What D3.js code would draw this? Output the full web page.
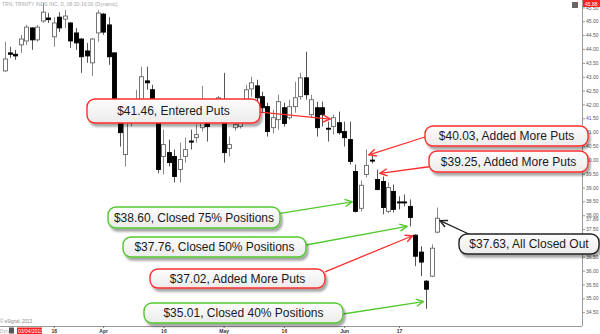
<!DOCTYPE html>
<html>
<head>
<meta charset="utf-8">
<script src="https://d3js.org/d3.v7.min.js"></script>
<style>
body { margin: 0; background: #fff; }
svg { display: block; font-family: Arial, "Liberation Sans", sans-serif; }
</style>
</head>
<body>
<script>
// trading days shown (TRN daily, Mar 5 - Jun 26 2013)
var dates = ['2013-03-05','2013-03-06','2013-03-07','2013-03-08','2013-03-11','2013-03-12','2013-03-13','2013-03-14','2013-03-15',
  '2013-03-18','2013-03-19','2013-03-20','2013-03-21','2013-03-22','2013-03-25','2013-03-26','2013-03-27','2013-03-28',
  '2013-04-01','2013-04-02','2013-04-03','2013-04-04','2013-04-05','2013-04-08','2013-04-09','2013-04-10','2013-04-11','2013-04-12',
  '2013-04-15','2013-04-16','2013-04-17','2013-04-18','2013-04-19','2013-04-22','2013-04-23','2013-04-24','2013-04-25','2013-04-26',
  '2013-04-29','2013-04-30','2013-05-01','2013-05-02','2013-05-03','2013-05-06','2013-05-07','2013-05-08','2013-05-09','2013-05-10',
  '2013-05-13','2013-05-14','2013-05-15','2013-05-16','2013-05-17','2013-05-20','2013-05-21','2013-05-22','2013-05-23','2013-05-24',
  '2013-05-28','2013-05-29','2013-05-30','2013-05-31','2013-06-03','2013-06-04','2013-06-05','2013-06-06','2013-06-07',
  '2013-06-10','2013-06-11','2013-06-12','2013-06-13','2013-06-14','2013-06-17','2013-06-18','2013-06-19','2013-06-20','2013-06-21',
  '2013-06-24','2013-06-25','2013-06-26']

var open = [43.21,43.86,43.81,44.15,44.29,44.76,44.33,45.01,45.12,44.44,
  45.15,45.08,44.94,44.58,44.36,43.93,43.50,44.58,45.26,44.87,
  43.86,41.88,40.19,41.52,41.63,42.03,42.85,42.53,41.81,40.12,
  40.26,40.12,39.65,40.12,40.68,40.80,41.16,41.74,41.88,41.74,
  41.81,40.41,41.16,41.20,41.88,42.56,42.67,42.28,41.92,41.16,
  41.45,41.88,41.52,41.92,42.28,42.96,41.63,41.88,41.88,41.14,
  41.20,41.34,41.02,40.73,39.58,38.25,39.47,39.99,39.29,39.22,
  38.14,38.86,38.48,38.48,38.32,37.28,36.67,35.62,35.80,37.39]
var high = [44.26,44.08,43.97,44.51,44.87,44.79,44.87,45.66,45.30,45.15,
  45.33,45.41,44.96,44.76,44.40,44.22,44.40,45.41,45.30,45.15,
  43.88,41.99,41.81,41.95,42.53,43.36,43.36,42.71,41.99,41.09,
  40.73,40.37,40.62,40.80,41.09,41.27,42.67,41.95,42.10,42.31,
  43.14,40.84,41.45,41.56,42.71,43.00,42.89,42.46,42.06,41.81,
  42.35,42.06,42.17,42.82,43.14,43.90,42.35,42.10,42.10,41.38,
  41.63,41.74,41.38,41.38,39.83,39.25,40.37,40.19,39.65,39.40,
  39.18,39.11,38.68,38.75,38.57,37.31,36.88,35.66,36.95,38.28]
var low = [43.18,43.68,43.61,43.86,44.15,43.97,44.26,44.94,44.94,44.08,
  44.61,44.76,44.04,43.97,43.14,43.50,43.03,44.26,44.51,43.43,
  41.63,40.48,39.76,41.20,41.45,41.88,42.53,41.52,39.51,39.47,
  39.76,39.18,39.18,39.90,40.37,40.62,41.02,40.66,41.38,41.59,
  39.90,40.12,41.05,41.13,41.63,42.28,42.03,41.74,40.84,40.95,
  41.09,41.20,41.45,41.70,42.17,42.17,41.52,40.84,41.20,40.66,
  40.91,40.91,40.48,39.83,38.10,38.14,39.36,39.87,38.90,38.03,
  38.07,38.10,38.21,38.32,37.60,36.16,35.80,34.62,35.77,37.35]
var close = [43.64,43.81,43.75,44.36,44.79,44.33,44.79,45.33,45.06,44.94,
  44.76,45.19,44.29,44.22,43.72,43.75,44.36,45.30,44.61,43.72,
  41.74,40.98,41.52,41.74,42.10,43.00,42.78,41.74,39.65,40.55,
  39.90,39.40,40.01,40.37,40.64,40.91,42.03,41.20,41.52,42.24,
  40.26,40.55,41.27,41.38,42.53,42.78,42.24,41.88,41.02,41.52,
  42.10,41.31,41.92,42.24,42.96,42.35,42.17,41.16,41.63,41.11,
  41.52,40.98,40.80,39.94,38.14,39.08,39.80,39.96,38.93,38.28,
  39.00,38.21,38.45,38.45,37.92,36.52,36.31,35.33,36.81,37.89]

// axis ticks
var yTicks = [34.5,35,35.5,36,36.5,37,37.5,38,38.5,39,39.5,40,40.5,41,41.5,42,42.5,43,43.5,44,44.5,45,45.5]
var xTickDates = ['2013-03-18','2013-04-01','2013-04-16','2013-05-01','2013-05-16','2013-06-03','2013-06-17']
var xTickLabels = ['18','Apr','16','May','16','Jun','17']

// trade notes: text, kind, the candle + price the arrow points at
var noteText = ['$41.46, Entered Puts','$40.03, Added More Puts','$39.25, Added More Puts',
  '$38.60, Closed 75% Positions','$37.76, Closed 50% Positions','$37.02, Added More Puts',
  '$35.01, Closed 40% Positions','$37.63, All Closed Out']
var noteKind = ['put','put','put','close','close','put','close','exit']
var noteDate = ['2013-05-30','2013-06-07','2013-06-11','2013-06-05','2013-06-19','2013-06-20','2013-06-24','2013-06-26']
var notePrice = [41.46,40.15,39.5,38.5,37.62,37.3,34.9,37.85]

var lastPrice = 37.89

var width = 600, height = 334

// box placement [x, y, w, h] and where the arrow leaves the box [fx, fy]
var boxLayout = [[87,99,173,24],[425,126,163,20],[429,151,159,21],[108,207,172,21],
  [123,237,183,20],[150,269,175,19],[144,303,199,20],[459,234,140,20]]
var boxAnchor = [[1,0.55],[0,0.55],[0,0.75],[1,0.3],[1,0.4],[1,0.15],[1,0.55],[0.1,0.1]]
var kindColor = {put: '#ff2e2e', close: '#52c92e', exit: '#222'}

var x = d3.scalePoint().domain(dates).range([4.5, 437.3])
var y = d3.scaleLinear().domain([34.5, 45]).range([312.2, 21.3])

var svg = d3.select('body').append('svg')
    .attr('width', width)
    .attr('height', height)

var defs = svg.append('defs')
var grad = defs.append('linearGradient').attr('id', 'boxfill')
    .attr('x1', 0).attr('y1', 0).attr('x2', 0).attr('y2', 1)
grad.append('stop').attr('offset', '0%').attr('stop-color', '#fdfdfd')
grad.append('stop').attr('offset', '100%').attr('stop-color', '#ebebeb')
defs.append('filter').attr('id', 'shadow')
    .attr('x', '-10%').attr('y', '-20%').attr('width', '130%').attr('height', '160%')
  .append('feDropShadow')
    .attr('dx', 2).attr('dy', 3).attr('stdDeviation', 1.3)
    .attr('flood-color', '#000').attr('flood-opacity', 0.35)
Object.keys(kindColor).forEach(k => {
    defs.append('marker').attr('id', 'arr-' + k)
        .attr('viewBox', '0 0 10 10').attr('refX', 9).attr('refY', 5)
        .attr('markerWidth', 9).attr('markerHeight', 9)
        .attr('markerUnits', 'userSpaceOnUse').attr('orient', 'auto')
      .append('path')
        .attr('d', 'M1,1 L9,5 L1,9')
        .attr('fill', 'none').attr('stroke', kindColor[k]).attr('stroke-width', 1.6)
})

// header text
svg.append('text').attr('x', 2).attr('y', 6)
    .attr('font-size', 5).attr('fill', '#aaa')
    .text('TRN, TRINITY INDS INC, D, 08:30-16:00 (Dynamic)')

// candles
var candles = svg.append('g')
var idx = d3.range(dates.length)
candles.selectAll('line.wick').data(idx).join('line')
    .attr('class', 'wick')
    .attr('x1', i => Math.round(x(dates[i])) + 0.5)
    .attr('x2', i => Math.round(x(dates[i])) + 0.5)
    .attr('y1', i => y(high[i]))
    .attr('y2', i => y(low[i]))
    .attr('stroke', i => close[i] >= open[i] ? '#888' : '#555')
    .attr('stroke-width', 1)
candles.selectAll('rect').data(idx).join('rect')
    .attr('x', i => Math.round(x(dates[i])) - 1.5)
    .attr('y', i => y(Math.max(open[i], close[i])))
    .attr('width', 4)
    .attr('height', i => Math.max(1, y(Math.min(open[i], close[i])) - y(Math.max(open[i], close[i]))))
    .attr('fill', i => close[i] >= open[i] ? '#fff' : '#000')
    .attr('stroke', i => close[i] >= open[i] ? '#666' : '#000')
    .attr('stroke-width', 0.9)

// price axis
var yAxis = svg.append('g')
    .attr('transform', 'translate(582,0)')
    .call(d3.axisRight(y).tickValues(yTicks).tickSize(3).tickPadding(1).tickFormat(d3.format('.2f')))
yAxis.select('.domain').remove()
yAxis.selectAll('line').attr('stroke', '#999')
yAxis.selectAll('text').attr('font-size', 5).attr('fill', '#555').attr('font-family', 'Arial')
svg.append('line').attr('x1', 582.5).attr('x2', 582.5).attr('y1', 0).attr('y2', 326)
    .attr('stroke', '#999')

// last price tag + top tag
svg.append('text').attr('x', 586).attr('y', y(lastPrice) + 3)
    .attr('font-size', 5).attr('fill', '#555').text(d3.format('.2f')(lastPrice))
svg.append('rect').attr('x', 572).attr('y', 2).attr('width', 6).attr('height', 6).attr('fill', '#666')
svg.append('rect').attr('x', 583).attr('y', 0).attr('width', 17).attr('height', 7).attr('fill', '#ff2020')
svg.append('text').attr('x', 585).attr('y', 5.5).attr('font-size', 5).attr('fill', '#fff').text('45.88')

// date axis
svg.append('line').attr('x1', 0).attr('x2', 582).attr('y1', 326.5).attr('y2', 326.5).attr('stroke', '#999')
var xAxis = svg.append('g')
    .attr('transform', 'translate(0,326)')
    .call(d3.axisBottom(x).tickValues(xTickDates).tickSize(2).tickPadding(1)
        .tickFormat(d => xTickLabels[xTickDates.indexOf(d)]))
xAxis.select('.domain').remove()
xAxis.selectAll('line').attr('stroke', '#777')
xAxis.selectAll('text').attr('font-size', 5).attr('font-weight', 'bold').attr('fill', '#333')

// footer bits
svg.append('text').attr('x', 0).attr('y', 323).attr('font-size', 4.5).attr('fill', '#888').text('© eSignal, 2013')
svg.append('text').attr('x', 0).attr('y', 333).attr('font-size', 5).attr('fill', '#aaa').text('Dyn')
svg.append('rect').attr('x', 9).attr('y', 327.5).attr('width', 5).attr('height', 6).attr('fill', '#555')
svg.append('rect').attr('x', 17).attr('y', 327.5).attr('width', 25).attr('height', 7).attr('fill', '#ff2020')
svg.append('text').attr('x', 18).attr('y', 333).attr('font-size', 5).attr('fill', '#fff').text('03/04/2013')

// notes: arrow from box to the candle, then the box on top
var notes = svg.append('g')
noteText.forEach((t, i) => {
    var b = boxLayout[i], a = boxAnchor[i]
    var col = kindColor[noteKind[i]]
    var sx = b[0] + a[0] * b[2], sy = b[1] + a[1] * b[3]
    var tx = x(noteDate[i]), ty = y(notePrice[i])
    var len = Math.hypot(tx - sx, ty - sy), gap = 3
    var ex = tx - (tx - sx) / len * gap, ey = ty - (ty - sy) / len * gap
    notes.append('line')
        .attr('x1', sx).attr('y1', sy).attr('x2', ex).attr('y2', ey)
        .attr('stroke', col).attr('stroke-width', 1.3)
        .attr('marker-end', 'url(#arr-' + noteKind[i] + ')')
})
noteText.forEach((t, i) => {
    var b = boxLayout[i]
    var col = kindColor[noteKind[i]]
    notes.append('rect')
        .attr('x', b[0]).attr('y', b[1]).attr('width', b[2]).attr('height', b[3])
        .attr('rx', 8).attr('ry', 8)
        .attr('fill', 'url(#boxfill)')
        .attr('stroke', col).attr('stroke-width', 1.4)
        .attr('filter', 'url(#shadow)')
    notes.append('text')
        .attr('x', b[0] + b[2] / 2).attr('y', b[1] + b[3] / 2 + 4.3)
        .attr('text-anchor', 'middle')
        .attr('font-size', 12).attr('fill', '#1a1a1a')
        .text(t)
})
</script>
</body>
</html>
